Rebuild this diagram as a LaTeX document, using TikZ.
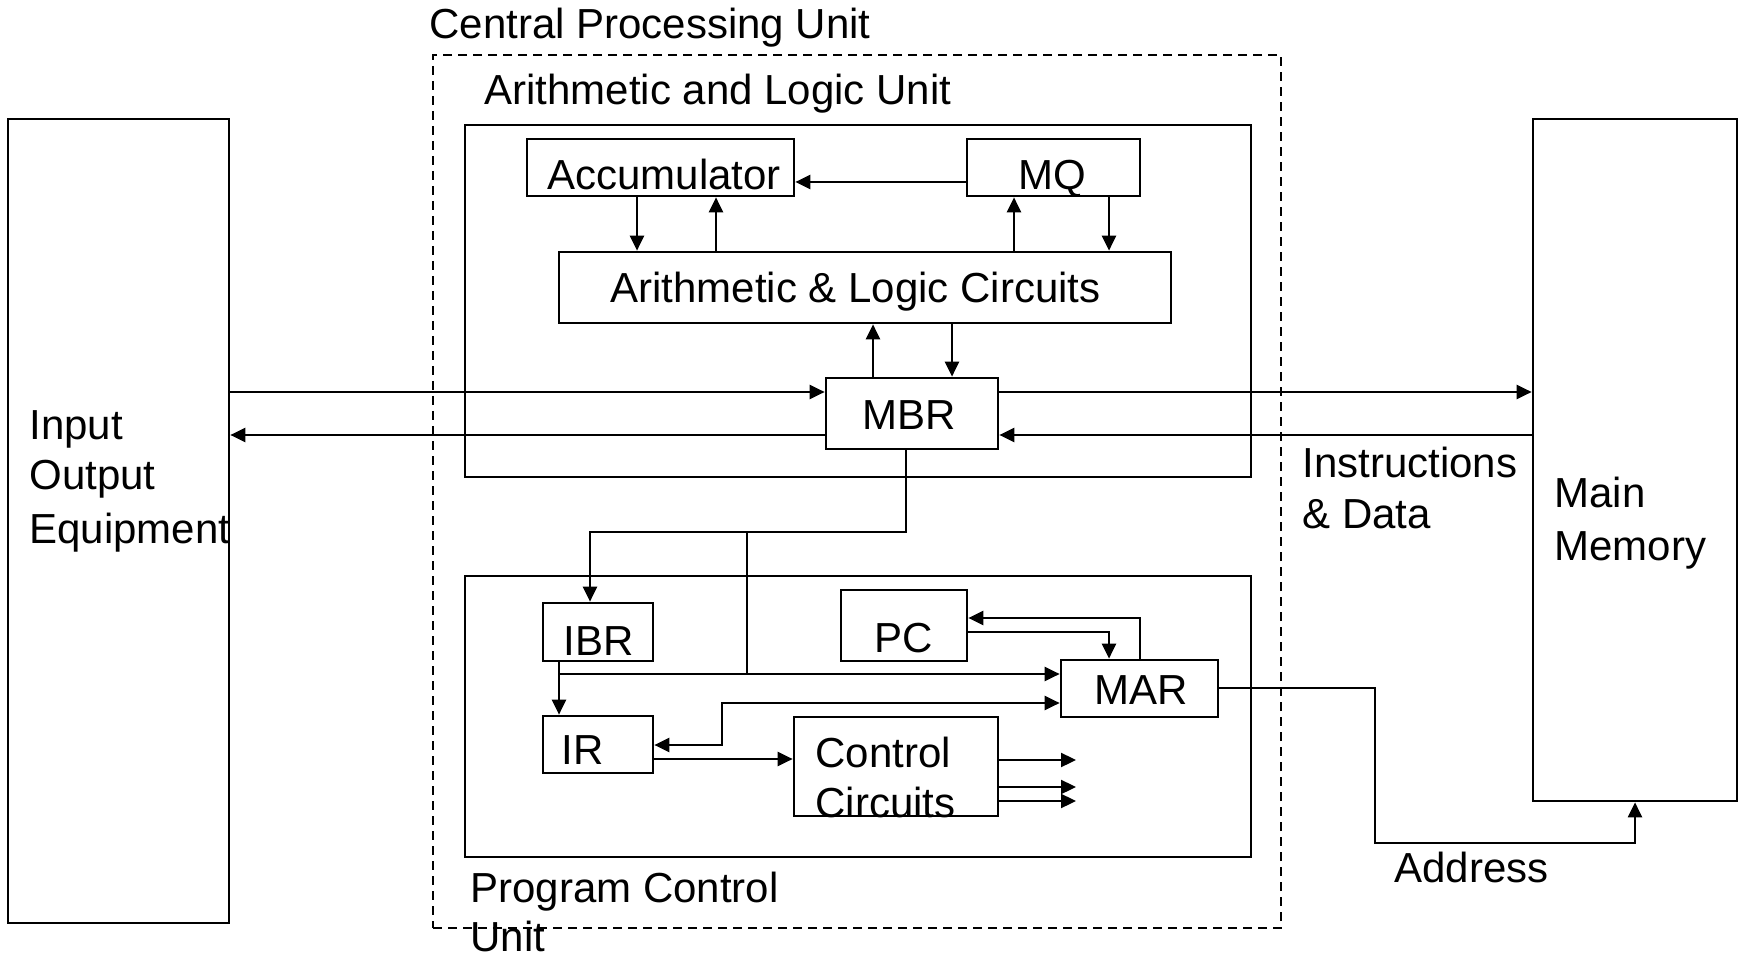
\documentclass[tikz,border=0pt]{standalone}
\usepackage{fontspec}
\setmainfont{Liberation Sans}
\usetikzlibrary{arrows.meta,fit}
\begin{document}
\begin{tikzpicture}[x=0.5pt,y=-0.5pt,
  box/.style={draw,line width=1.35pt,inner sep=0pt},
  dbox/.style={draw,line width=1.1pt,inner sep=0pt,dash pattern=on 4.5pt off 3pt},
  lbl/.style={anchor=base west,inner sep=0pt,font=\fontsize{21}{25.5}\selectfont},
  conn/.style={line width=1.15pt},
  arr/.style={conn,-{Triangle[length=7.5pt,width=7pt]}},
  darr/.style={conn,{Triangle[length=7.5pt,width=7pt]}-{Triangle[length=7.5pt,width=7pt]}}]
\useasboundingbox (0,0) rectangle (1744,956);

% boxes
\node[box,fit={(8,119) (229,923)}] (io) {};
\node[box,fit={(1533,119) (1737,801)}] (mm) {};
\node[dbox,fit={(433,55) (1281,928)}] (cpu) {};
\node[box,fit={(465,125) (1251,477)}] (alu) {};
\node[box,fit={(465,576) (1251,857)}] (pcu) {};
\node[box,fit={(527,139) (794,196)}] (acc) {};
\node[box,fit={(967,139) (1140,196)}] (mq) {};
\node[box,fit={(559,252) (1171,323)}] (alc) {};
\node[box,fit={(826,378) (998,449)}] (mbr) {};
\node[box,fit={(543,603) (653,661)}] (ibr) {};
\node[box,fit={(841,590) (967,661)}] (pc) {};
\node[box,fit={(1061,660) (1218,717)}] (mar) {};
\node[box,fit={(543,716) (653,773)}] (ir) {};
\node[box,fit={(794,717) (998,816)}] (cc) {};

% labels
\node[lbl] (tcpu) at (429,39) {Central Processing Unit};
\node[lbl] (talu) at (484,105) {Arithmetic and Logic Unit};
\node[lbl] (tacc) at (547,190) {Accumulator};
\node[lbl] (tmq) at (1018,190) {MQ};
\node[lbl] (talc) at (610,303) {Arithmetic \& Logic Circuits};
\node[lbl] (tmbr) at (862,430) {MBR};
\node[lbl] (tio1) at (29,440) {Input};
\node[lbl] (tio2) at (29,490) {Output};
\node[lbl] (tio3) at (29,543) {Equipment};
\node[lbl] (tid1) at (1302,478) {Instructions};
\node[lbl] (tid2) at (1302,529) {\& Data};
\node[lbl] (tmm1) at (1554,508) {Main};
\node[lbl] (tmm2) at (1554,560) {Memory};
\node[lbl] (tibr) at (563,655) {IBR};
\node[lbl] (tpc) at (874,652) {PC};
\node[lbl] (tmar) at (1094,704) {MAR};
\node[lbl] (tir) at (561,764) {IR};
\node[lbl] (tcc1) at (815,767) {Control};
\node[lbl] (tcc2) at (815,817) {Circuits};
\node[lbl] (tpcu1) at (470,902) {Program Control};
\node[lbl] (tpcu2) at (470,951) {Unit};
\node[lbl] (tadr) at (1394,882) {Address};

% coordinates
\coordinate (j1) at (747,532);
\coordinate (j2) at (747,674);
\coordinate (b1) at (590,532);
\coordinate (k1) at (722,703);
\coordinate (a1) at (1375,843);
\coordinate (o1) at (1076,760);
\coordinate (o2) at (1076,787);
\coordinate (o3) at (1076,801);

% ALU connectors
\draw[arr] (mq.west |- 0,182) -- (acc.east |- 0,182);
\draw[arr] (acc.south -| 637,0) -- (alc.north -| 637,0);
\draw[arr] (alc.north -| 716,0) -- (acc.south -| 716,0);
\draw[arr] (alc.north -| 1014,0) -- (mq.south -| 1014,0);
\draw[arr] (mq.south -| 1109,0) -- (alc.north -| 1109,0);
\draw[arr] (mbr.north -| 873,0) -- (alc.south -| 873,0);
\draw[arr] (alc.south -| 952,0) -- (mbr.north -| 952,0);

% IO and memory
\draw[arr] (io.east |- 0,392) -- (mbr.west |- 0,392);
\draw[arr] (mbr.west |- 0,435) -- (io.east |- 0,435);
\draw[arr] (mbr.east |- 0,392) -- (mm.west |- 0,392);
\draw[arr] (mm.west |- 0,435) -- (mbr.east |- 0,435);

% bus from MBR
\draw[arr] (mbr.south -| 906,0) |- (b1) -- (ibr.north -| b1);
\draw[conn] (j1) -- (j2);

% program control
\draw[arr] (ibr.south -| 559,0) |- (mar.west |- j2);
\draw[arr] (ibr.south -| 559,0) -- (ir.north -| 559,0);
\draw[darr] (ir.east |- 0,745) -| (k1) -- (mar.west |- k1);
\draw[arr] (ir.east |- 0,759) -- (cc.west |- 0,759);
\draw[arr] (cc.east |- o1) -- (o1);
\draw[arr] (cc.east |- o2) -- (o2);
\draw[arr] (cc.east |- o3) -- (o3);
\draw[arr] (mar.north -| 1140,0) |- (pc.east |- 0,618);
\draw[arr] (pc.east |- 0,632) -| (mar.north -| 1109,0);

% address
\draw[arr] (mar.east |- 0,688) -| (a1) -| (mm.south -| 1635,0);
\end{tikzpicture}
\end{document}
